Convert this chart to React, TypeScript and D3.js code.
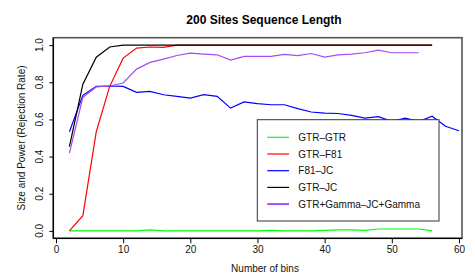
import { useEffect, useRef } from 'react';
import * as d3 from 'd3';

const bins = [2, 4, 6, 8, 10, 12, 14, 16, 18, 20, 22, 24, 26, 28, 30, 32, 34, 36, 38, 40, 42, 44, 46, 48, 50, 52, 54, 56, 58, 60];

const gtrGtr = [0, 0, 0, 0, 0, 0, 0.005, 0, 0, 0, 0, 0, 0, 0, 0, 0.003, 0, 0, 0, 0.003, 0.005, 0.005, 0.003, 0.01, 0.01, 0.01, 0.01, 0];
const gtrF81 = [0, 0.082, 0.534, 0.778, 0.93, 0.984, 0.99, 0.988, 1, 1, 1, 1, 1, 1, 1, 1, 1, 1, 1, 1, 1, 1, 1, 1, 1, 1, 1, 1];
const f81Jc = [0.534, 0.73, 0.778, 0.78, 0.778, 0.746, 0.751, 0.733, 0.724, 0.715, 0.733, 0.724, 0.661, 0.694, 0.685, 0.679, 0.679, 0.658, 0.64, 0.634, 0.632, 0.622, 0.607, 0.615, 0.59, 0.607, 0.588, 0.617, 0.563, 0.539];
const gtrJc = [0.453, 0.79, 0.935, 0.99, 1, 1, 1, 1, 1, 1, 1, 1, 1, 1, 1, 1, 1, 1, 1, 1, 1, 1, 1, 1, 1, 1, 1, 1];
const gammaJc = [0.418, 0.719, 0.775, 0.78, 0.796, 0.871, 0.907, 0.925, 0.944, 0.957, 0.952, 0.948, 0.919, 0.939, 0.939, 0.939, 0.95, 0.944, 0.955, 0.935, 0.948, 0.952, 0.959, 0.973, 0.959, 0.959, 0.959];

const seriesNames = ['GTR\u2013GTR', 'GTR\u2013F81', 'F81\u2013JC', 'GTR\u2013JC', 'GTR+Gamma\u2013JC+Gamma'];
const seriesValues = [gtrGtr, gtrF81, f81Jc, gtrJc, gammaJc];
const seriesColors = ['#00ff00', '#ff0000', '#0000ff', '#000000', '#a64bf4'];

const xTicks = [0, 10, 20, 30, 40, 50, 60];
const yTicks = [0, 0.2, 0.4, 0.6, 0.8, 1.0];

export default function App() {
  const svgRef = useRef<SVGSVGElement>(null);

  useEffect(() => {
    const svg = d3.select(svgRef.current);
    svg.selectAll('*').remove();

    const width = 475;
    const height = 274;
    const left = 53.3, right = 462, top = 37.7, bottom = 238.3;
    const font = 'Liberation Sans, Arial, sans-serif';

    svg.attr('width', width).attr('height', height);

    const x = d3.scaleLinear().domain([-0.4, 60.45]).range([left, right]);
    const y = d3.scaleLinear().domain([-0.04, 1.04]).range([bottom, top]);

    // plot box
    svg.append('rect')
      .attr('x', left).attr('y', top)
      .attr('width', right - left).attr('height', bottom - top)
      .attr('fill', 'none').attr('stroke', '#555').attr('stroke-width', 1.6);

    const line = d3.line<number>()
      .x((_, i) => x(bins[i]))
      .y(d => y(d));

    seriesValues.forEach((vals, i) => {
      svg.append('path')
        .attr('d', line(vals))
        .attr('fill', 'none')
        .attr('stroke', seriesColors[i])
        .attr('stroke-width', 1.2);
    });

    // x axis
    const xAxis = svg.append('g')
      .attr('transform', `translate(0,${bottom})`)
      .call(d3.axisBottom(x).tickValues(xTicks).tickSize(5).tickPadding(3).tickFormat(d3.format('d')));
    xAxis.select('.domain').remove();
    xAxis.selectAll('text').style('font-size', '10px').style('font-family', font).attr('fill', '#111');

    // y axis
    const yAxis = svg.append('g')
      .attr('transform', `translate(${left},0)`)
      .call(d3.axisLeft(y).tickValues(yTicks).tickSize(4).tickFormat(d3.format('.1f')));
    yAxis.select('.domain').remove();
    yAxis.selectAll('text').remove();
    yTicks.forEach(t => {
      svg.append('text')
        .attr('transform', `translate(43,${y(t)}) rotate(-90)`)
        .attr('text-anchor', 'middle')
        .style('font-size', '10px')
        .style('font-family', font)
        .attr('fill', '#111')
        .text(d3.format('.1f')(t));
    });

    svg.append('line')
      .attr('x1', left).attr('x2', right)
      .attr('y1', bottom).attr('y2', bottom)
      .attr('stroke', '#000').attr('stroke-width', 1.2);
    svg.append('line')
      .attr('x1', left).attr('x2', left)
      .attr('y1', top).attr('y2', bottom)
      .attr('stroke', '#000').attr('stroke-width', 1.2);

    // legend
    const lx = 257.3, ly = 119.7, lw = 181.7, lh = 101.3;
    svg.append('rect')
      .attr('x', lx).attr('y', ly).attr('width', lw).attr('height', lh)
      .attr('fill', '#fff').attr('stroke', '#333').attr('stroke-width', 1);
    seriesNames.forEach((name, i) => {
      const cy = 137.3 + i * 16.7;
      svg.append('line')
        .attr('x1', 267.3).attr('x2', 289)
        .attr('y1', cy).attr('y2', cy)
        .attr('stroke', seriesColors[i])
        .attr('stroke-width', i === 4 ? 2 : 1.2);
      svg.append('text')
        .attr('x', 298.3).attr('y', cy + 3.6)
        .style('font-size', '10px')
        .style('font-family', font)
        .attr('fill', '#111')
        .text(name);
    });

    // titles
    svg.append('text')
      .attr('x', 264).attr('y', 24)
      .attr('text-anchor', 'middle')
      .style('font-size', '12px').style('font-weight', 'bold')
      .style('font-family', font)
      .text('200 Sites Sequence Length');

    svg.append('text')
      .attr('x', 265).attr('y', 272)
      .attr('text-anchor', 'middle')
      .style('font-size', '10px')
      .style('font-family', font)
      .attr('fill', '#111')
      .text('Number of bins');

    svg.append('text')
      .attr('transform', `translate(25,${(top + bottom) / 2}) rotate(-90)`)
      .attr('text-anchor', 'middle')
      .style('font-size', '10px')
      .style('font-family', font)
      .attr('fill', '#111')
      .text('Size and Power (Rejection Rate)');
  }, []);

  return <svg ref={svgRef} style={{ position: 'absolute', left: 0, top: 0 }}></svg>;
}
